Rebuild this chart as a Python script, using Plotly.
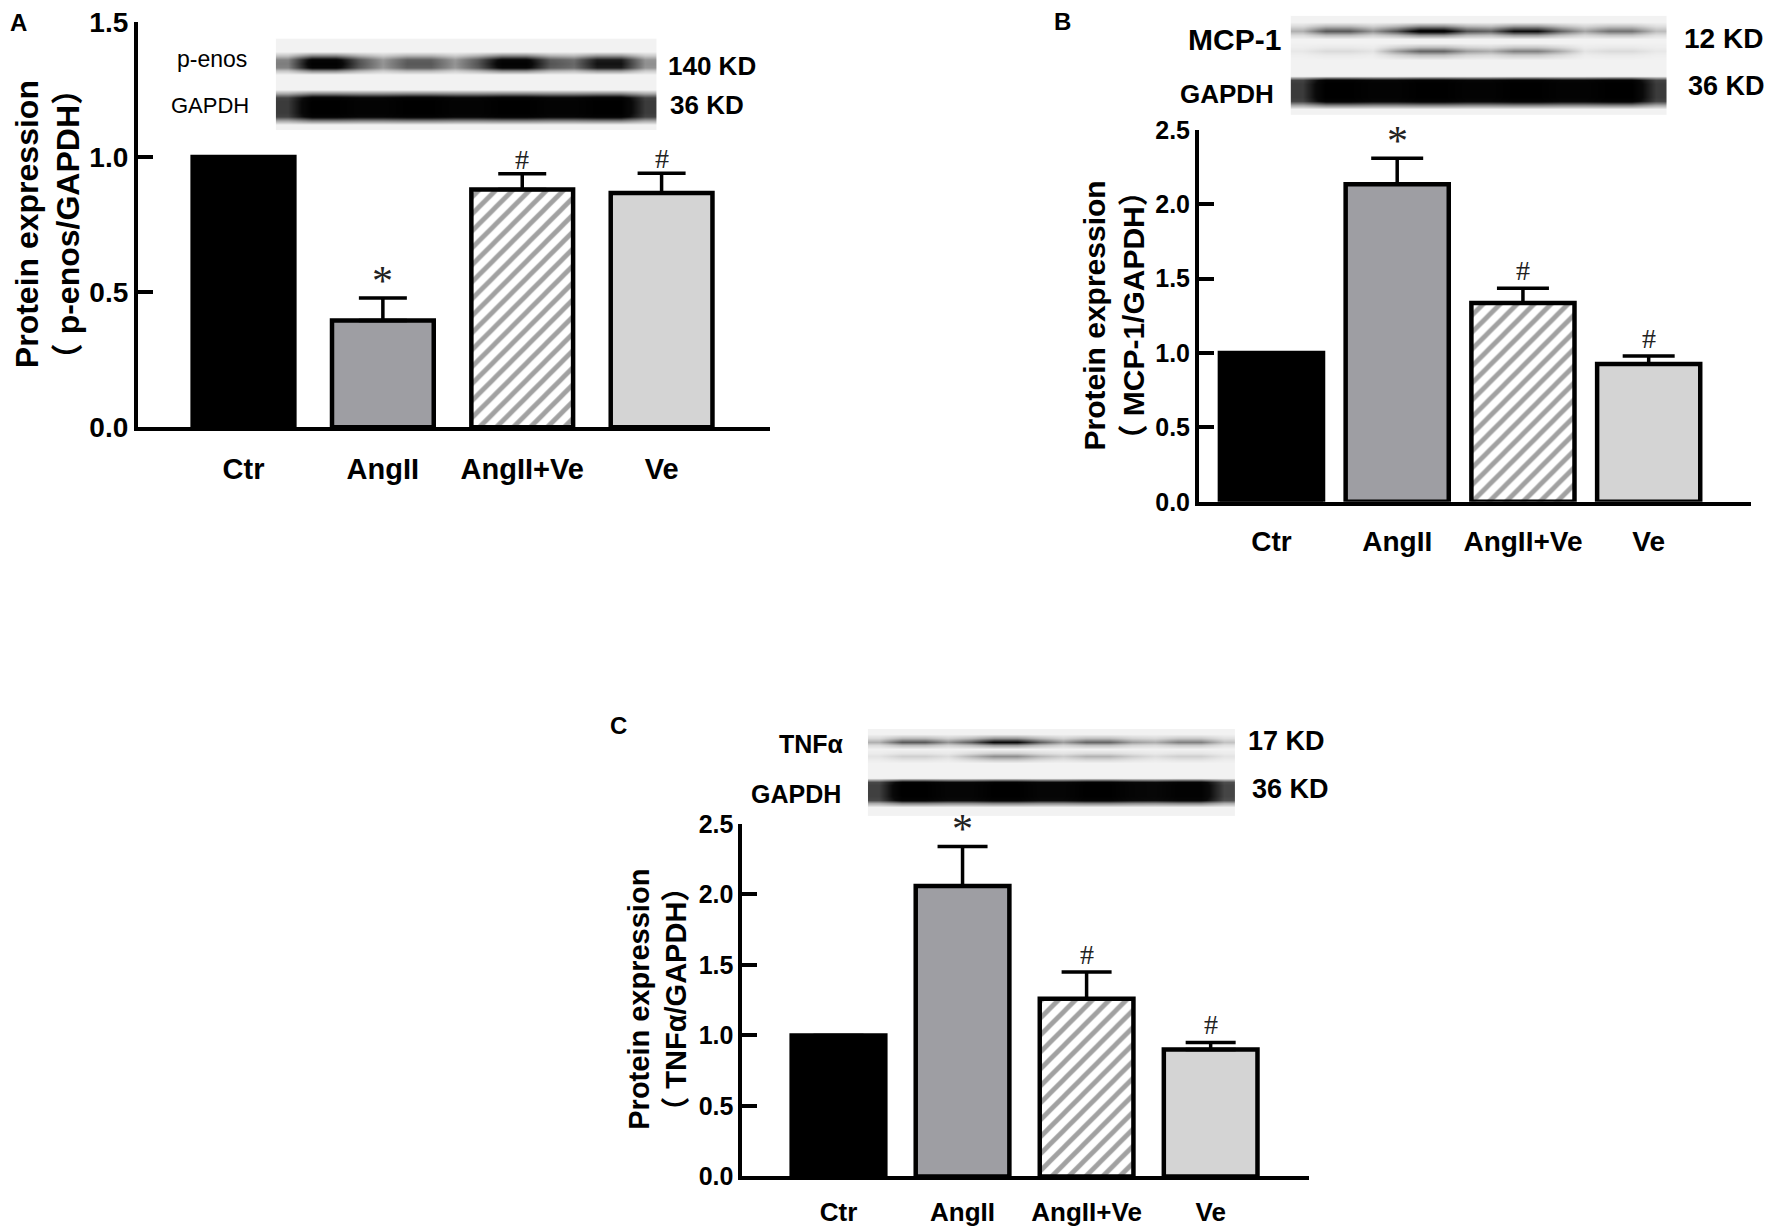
import plotly.graph_objects as go

# group labels
groups = ["Ctr", "AngII", "AngII+Ve", "Ve"]

# panel A: p-eNOS / GAPDH
penos_mean = [1.0, 0.395, 0.88, 0.867]
penos_err = [0.0, 0.083, 0.058, 0.073]

# panel B: MCP-1 / GAPDH
mcp1_mean = [1.0, 2.135, 1.337, 0.927]
mcp1_err = [0.0, 0.175, 0.099, 0.053]

# panel C: TNFa / GAPDH
tnfa_mean = [1.0, 2.06, 1.26, 0.90]
tnfa_err = [0.0, 0.28, 0.19, 0.05]

# significance marks
sig_marks = ["", "*", "#", "#"]

# western blot band darkness per lane (0 = none, 1 = black)
penos_band = [0.97, 0.55, 0.95, 0.82]
penos_gapdh = [1.0, 1.0, 1.0, 1.0]
mcp1_band = [0.55, 0.97, 0.85, 0.45]
mcp1_band2 = [0.08, 0.5, 0.4, 0.08]
mcp1_gapdh = [1.0, 1.0, 1.0, 1.0]
tnfa_band = [0.55, 0.88, 0.5, 0.4]
tnfa_band2 = [0.12, 0.35, 0.22, 0.12]
tnfa_gapdh = [1.0, 1.0, 1.0, 0.97]

bar_colors = ["#000000", "#9e9ea3", "#ffffff", "#d4d4d4"]
bar_shapes = ["", "", "/", ""]

# page body has an 8px margin, so the figure is a bit smaller than the window
FW, FH = 1764, 1221
K = 1772 / 1568  # positions below were measured on a 1568 px wide copy
fig = go.Figure()

SANS = "Liberation Sans, Arial, Noto Sans CJK SC"
SERIF = "Liberation Serif, Times New Roman"
N_ROWS = 24      # vertical resolution of the blot pictures
LANE_COLS = 4    # horizontal samples per lane


def px(xd):
    return min(1.0, max(0.0, (xd * K - 8) / FW))


def py(yd):
    return min(1.0, max(0.0, 1 - (yd * K - 8) / FH))


def add_bars(means, errs, xa, ya, width, cap, hash_shift):
    fig.add_trace(go.Bar(
        x=list(range(len(groups))), y=means, width=width,
        marker=dict(color=bar_colors, line=dict(color="#000000", width=4.5),
                    pattern=dict(shape=bar_shapes, fgcolor="#808080", bgcolor="#ffffff",
                                 size=12, solidity=0.4)),
        error_y=dict(type="data", symmetric=False, array=errs,
                     arrayminus=[0] * len(errs), color="#000000",
                     thickness=3.5, width=cap),
        xaxis=xa, yaxis=ya, showlegend=False, hoverinfo="skip"))
    tops = [m + e for m, e in zip(means, errs)]
    for i, (t, s) in enumerate(zip(tops, sig_marks)):
        if s:
            fig.add_annotation(x=i, y=t, xref=xa, yref=ya, text=s, showarrow=False,
                               xanchor="center", yanchor="bottom",
                               yshift=hash_shift if s == "#" else -8,
                               font=dict(family=SERIF, size=42 if s == "*" else 28,
                                         color="#222222"))


def add_blot(xa, ya, bands):
    # bands: (centre row, lane intensities, vertical profile, lane edge factor)
    ncol = len(groups) * LANE_COLS
    z = [[0.0] * ncol for _ in range(N_ROWS)]
    for centre, lanes, prof, edge in bands:
        k = len(prof) // 2
        for j, w in enumerate(prof):
            r = centre - k + j
            for c in range(ncol):
                lane, sub = divmod(c, LANE_COLS)
                f = edge if sub in (0, LANE_COLS - 1) else 1.0
                if c in (0, ncol - 1):
                    f *= 0.7
                z[r][c] = max(z[r][c], lanes[lane] * w * f)
    xs = [(c + 0.5) / LANE_COLS - 0.5 for c in range(ncol)]
    fig.add_trace(go.Heatmap(
        z=z, x=xs, y=list(range(N_ROWS)), zsmooth="best",
        zmin=0, zmax=1, colorscale=[[0, "#f2f2f2"], [0.4, "#808080"], [0.85, "#0a0a0a"], [1, "#000000"]],
        showscale=False, xaxis=xa, yaxis=ya, hoverinfo="skip"))


add_bars(penos_mean, penos_err, "x", "y", 0.73, 24, -3)
add_bars(mcp1_mean, mcp1_err, "x2", "y2", 0.82, 26, 0)
add_bars(tnfa_mean, tnfa_err, "x3", "y3", 0.755, 25, 0)

thin = [0.35, 1.0, 0.35]
mid = [0.4, 0.95, 1.0, 0.95, 0.4]
thick = [0.4, 0.95, 1.0, 1.0, 1.0, 1.0, 0.95, 0.4]
add_blot("x4", "y4", [(17, penos_band, mid, 0.6), (6, penos_gapdh, thick, 0.95)])
add_blot("x5", "y5", [(20, mcp1_band, thin, 0.6), (15, mcp1_band2, thin, 0.6),
                      (5, mcp1_gapdh, thick[:-1], 0.95)])
add_blot("x6", "y6", [(20, tnfa_band, thin, 0.6), (16, tnfa_band2, thin, 0.6),
                      (6, tnfa_gapdh, thick[:-1], 0.92)])


def font(size, weight="bold"):
    return dict(family=SANS, size=size, color="#000000", weight=weight)


def yax(domain, rng, anchor, size):
    return dict(domain=domain, range=rng, dtick=0.5, tickformat=".1f", anchor=anchor,
                showline=True, linecolor="#000000", linewidth=4,
                ticks="inside", ticklen=15, tickwidth=4, tickcolor="#000000",
                showgrid=False, zeroline=False, tickfont=font(size), automargin=False,
                ticklabeloverflow="allow")


def xax(domain, rng, anchor, size, standoff):
    return dict(domain=domain, range=rng, anchor=anchor, tickvals=list(range(len(groups))),
                ticktext=groups, ticks="", showline=True, linecolor="#000000", linewidth=4,
                showgrid=False, zeroline=False, tickfont=font(size),
                ticklabelstandoff=standoff, automargin=False, ticklabeloverflow="allow")


def blot_x(domain, anchor):
    return dict(domain=domain, range=[-0.5, len(groups) - 0.5], visible=False,
                anchor=anchor, automargin=False)


def blot_y(domain, anchor):
    return dict(domain=domain, range=[-0.5, N_ROWS - 0.5], visible=False,
                anchor=anchor, automargin=False)


fig.update_layout(
    width=FW, height=FH, margin=dict(l=0, r=0, t=0, b=0, autoexpand=False),
    paper_bgcolor="#ffffff", plot_bgcolor="rgba(0,0,0,0)",
    xaxis=xax([px(122), px(681)], [-0.758, 3.775], "y", 29, 13),
    yaxis=yax([py(378), py(19.5)], [0, 1.5], "x", 28),
    xaxis2=xax([px(1061), px(1549)], [-0.576, 3.81], "y2", 28, 12),
    yaxis2=yax([py(444), py(115)], [0, 2.5], "x2", 25),
    xaxis3=xax([px(657), px(1158)], [-0.774, 3.79], "y3", 26, 9),
    yaxis3=yax([py(1041), py(729)], [0, 2.5], "x3", 25),
    xaxis4=blot_x([px(244), px(581)], "y4"),
    yaxis4=blot_y([py(115), py(34)], "x4"),
    xaxis5=blot_x([px(1142), px(1475)], "y5"),
    yaxis5=blot_y([py(102), py(14)], "x5"),
    xaxis6=blot_x([px(768), px(1093)], "y6"),
    yaxis6=blot_y([py(722), py(645)], "x6"),
)

# panel letters
for letter, xd, yd in [("A", 16, 20), ("B", 940, 19), ("C", 547, 642)]:
    fig.add_annotation(x=px(xd), y=py(yd), xref="paper", yref="paper", text=letter,
                       showarrow=False, xanchor="center", yanchor="middle", font=font(24))

# y axis titles
for txt, xd, yd, size in [
    ("Protein expression<br>（ p-enos/GAPDH）", 42, 198, 32),
    ("Protein expression<br>（ MCP-1/GAPDH）", 986, 279, 30),
    ("Protein expression<br>（ TNFα/GAPDH）", 582, 884, 29),
]:
    fig.add_annotation(x=px(xd), y=py(yd), xref="paper", yref="paper", text=txt,
                       textangle=-90, showarrow=False, align="center",
                       xanchor="center", yanchor="middle", font=font(size))

# blot labels
blot_labels = [
    ("p-enos", 188, 52, 23, "normal"),
    ("GAPDH", 186, 93, 22, "normal"),
    ("140 KD", 630, 58, 26, "bold"),
    ("36 KD", 626, 93, 26, "bold"),
    ("MCP-1", 1092, 35, 30, "bold"),
    ("GAPDH", 1086, 83, 26, "bold"),
    ("12 KD", 1525, 34, 28, "bold"),
    ("36 KD", 1528, 76, 27, "bold"),
    ("TNFα", 718, 658, 25, "bold"),
    ("GAPDH", 704, 703, 25, "bold"),
    ("17 KD", 1138, 656, 27, "bold"),
    ("36 KD", 1142, 698, 27, "bold"),
]
for txt, xd, yd, size, wt in blot_labels:
    fig.add_annotation(x=px(xd), y=py(yd), xref="paper", yref="paper", text=txt,
                       showarrow=False, xanchor="center", yanchor="middle",
                       font=font(size, wt))

fig.write_html("out.html")
